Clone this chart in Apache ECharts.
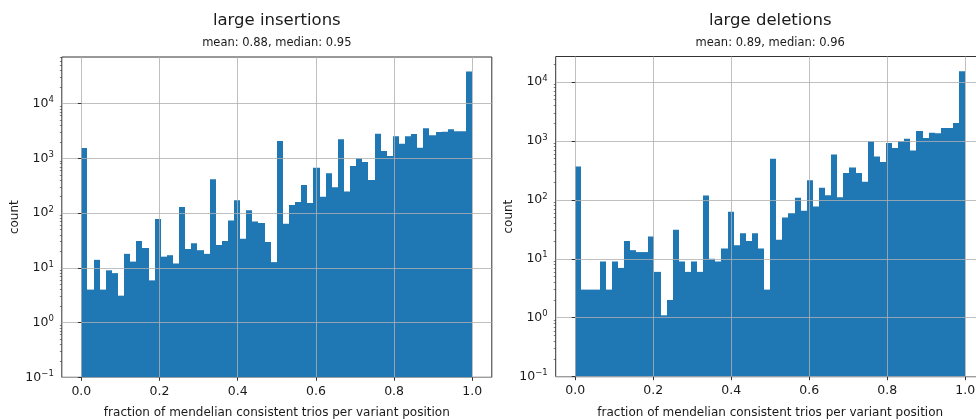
<!DOCTYPE html>
<html>
<head>
<meta charset="utf-8">
<script src="https://cdn.jsdelivr.net/npm/echarts@6/dist/echarts.min.js"></script>
<style>
  html, body { margin: 0; padding: 0; background: #fff; }
  #chart { width: 976px; height: 419px; }
</style>
</head>
<body>
<div id="chart"></div>
<script>
// Histogram of per-position mendelian consistency, 64 equal bins on [0, 1]
const binCount = 64;

const insertionCounts = [
  1550, 4, 14, 4, 9, 8, 3.1, 18, 13, 31, 23, 5.9, 78, 16, 17, 12,
  129, 22, 28, 21, 18, 413, 26, 31, 73, 171, 34, 113, 70, 66, 29.5, 12.7,
  2075, 64, 140, 159, 325, 152, 675, 199, 532, 295, 2228, 249, 724, 1000, 857, 402,
  2826, 1361, 1104, 2525, 1853, 2525, 2785, 1567, 3540, 2638, 3033, 3076, 3390, 3120, 3120, 38400
];

const deletionCounts = [
  369, 3, 3, 3, 9, 3, 9, 7, 20, 14, 13, 13, 24, 6, 1.1, 2,
  31, 9, 6, 9, 6, 119, 10, 9, 15, 63, 17, 27, 20, 27, 15, 3,
  499, 21, 50, 59, 108, 65, 214, 77, 160, 120, 590, 111, 284, 355, 284, 203,
  982, 546, 437, 920, 757, 982, 1090, 690, 1472, 1120, 1377, 1350, 1655, 1655, 2010, 15200
];

const panelTitles = ['large insertions', 'large deletions'];
const panelSubtitles = ['mean: 0.88, median: 0.95', 'mean: 0.89, median: 0.96'];
const xTickValues = [0, 0.2, 0.4, 0.6, 0.8, 1.0];
const yTickValues = [0.1, 1, 10, 100, 1000, 10000];
const yMinorValues = [];
for (let e = -1; e <= 4; e++) {
  for (let m = 2; m <= 9; m++) yMinorValues.push(m * Math.pow(10, e));
}
const xAxisTitle = 'fraction of mendelian consistent trios per variant position';
const yAxisTitle = 'count';

const barColor = '#1f77b4';
const font = 'DejaVu Sans';
const textColor = '#1a1a1a';
const spineColor = '#333';
const yFloor = 0.1;

function binned(counts) {
  return counts.map((c, i) => [i / binCount, (i + 1) / binCount, c]);
}

function powerLabel(v) {
  const e = Math.round(Math.log10(v));
  const exp = e < 0 ? '\u2212' + Math.abs(e) : String(e);
  return '{b|10}{s|' + exp + '}';
}

const grids = [
  { left: 61.8, top: 57, width: 430, height: 320.3, yMax: 71000 },
  { left: 555.7, top: 56.5, width: 429, height: 320.2, yMax: 27000 }
];
const panelData = [binned(insertionCounts), binned(deletionCounts)];

const option = {
  animation: false,
  backgroundColor: '#fff',
  textStyle: { fontFamily: font },
  grid: grids.map(g => ({
    left: g.left, top: g.top, width: g.width, height: g.height,
    show: true, borderColor: spineColor, borderWidth: 1, backgroundColor: 'transparent',
    containLabel: false, outerBoundsMode: 'none'
  })),
  xAxis: grids.map((g, k) => ({
    type: 'value', gridIndex: k, min: -0.05, max: 1.05, z: 5,
    name: xAxisTitle, nameLocation: 'middle', nameGap: 30,
    nameTextStyle: { fontFamily: font, fontSize: 12, color: textColor },
    axisLine: { show: false },
    axisTick: { show: true, inside: false, length: 3.5, customValues: xTickValues,
      lineStyle: { color: spineColor, width: 1 } },
    axisLabel: { show: true, customValues: xTickValues, margin: 8,
      fontFamily: font, fontSize: 12.5, color: textColor,
      formatter: v => v.toFixed(1) },
    splitLine: { show: true, lineStyle: { color: '#b0b0b0', width: 0.8 } }
  })),
  yAxis: [].concat(...grids.map((g, k) => [
    {
      type: 'log', logBase: 10, gridIndex: k, min: yFloor, max: g.yMax, z: 5,
      name: yAxisTitle, nameLocation: 'middle', nameGap: 41, nameRotate: 90,
      nameTextStyle: { fontFamily: font, fontSize: 12, color: textColor },
      axisLine: { show: false },
      axisTick: { show: true, inside: false, length: 3.5, customValues: yTickValues,
        lineStyle: { color: spineColor, width: 1 } },
      axisLabel: {
        show: true, customValues: yTickValues, margin: 8, formatter: powerLabel,
        rich: {
          b: { fontFamily: font, fontSize: 12.5, color: textColor },
          s: { fontFamily: font, fontSize: 8.5, color: textColor, verticalAlign: 'top', padding: [0, 0, 7, 0] }
        }
      },
      splitLine: { show: true, lineStyle: { color: '#b0b0b0', width: 0.8 } }
    },
    {
      type: 'log', logBase: 10, gridIndex: k, min: yFloor, max: g.yMax, z: 5,
      position: 'left',
      axisLine: { show: false },
      axisTick: { show: true, inside: false, length: 2, customValues: yMinorValues,
        lineStyle: { color: spineColor, width: 0.6 } },
      axisLabel: { show: false },
      splitLine: { show: false }
    }
  ])),
  series: panelData.map((data, k) => ({
    type: 'custom',
    xAxisIndex: k,
    yAxisIndex: k * 2,
    z: 1,
    data: data,
    encode: { x: [0, 1], y: 2 },
    renderItem: function (params, api) {
      const top = api.coord([api.value(0), api.value(2)]);
      const base = api.coord([api.value(1), yFloor]);
      // snap bin edges to whole pixels so neighbouring bars join without seams
      const x0 = Math.round(top[0]);
      const x1 = Math.round(base[0]);
      return {
        type: 'rect',
        shape: { x: x0, y: top[1], width: x1 - x0, height: base[1] - top[1] },
        style: { fill: barColor }
      };
    }
  })),
  graphic: [].concat(...grids.map((g, k) => [
    {
      type: 'text', x: g.left + g.width / 2, y: 21,
      style: { text: panelTitles[k], fontFamily: font, fontSize: 16.5, fill: textColor,
        textAlign: 'center', textVerticalAlign: 'middle' }
    },
    {
      type: 'text', x: g.left + g.width / 2, y: 43,
      style: { text: panelSubtitles[k], fontFamily: font, fontSize: 11.5, fill: textColor,
        textAlign: 'center', textVerticalAlign: 'middle' }
    }
  ]))
};

const chart = echarts.init(document.getElementById('chart'), null, { renderer: 'canvas' });
chart.setOption(option);
</script>
</body>
</html>
